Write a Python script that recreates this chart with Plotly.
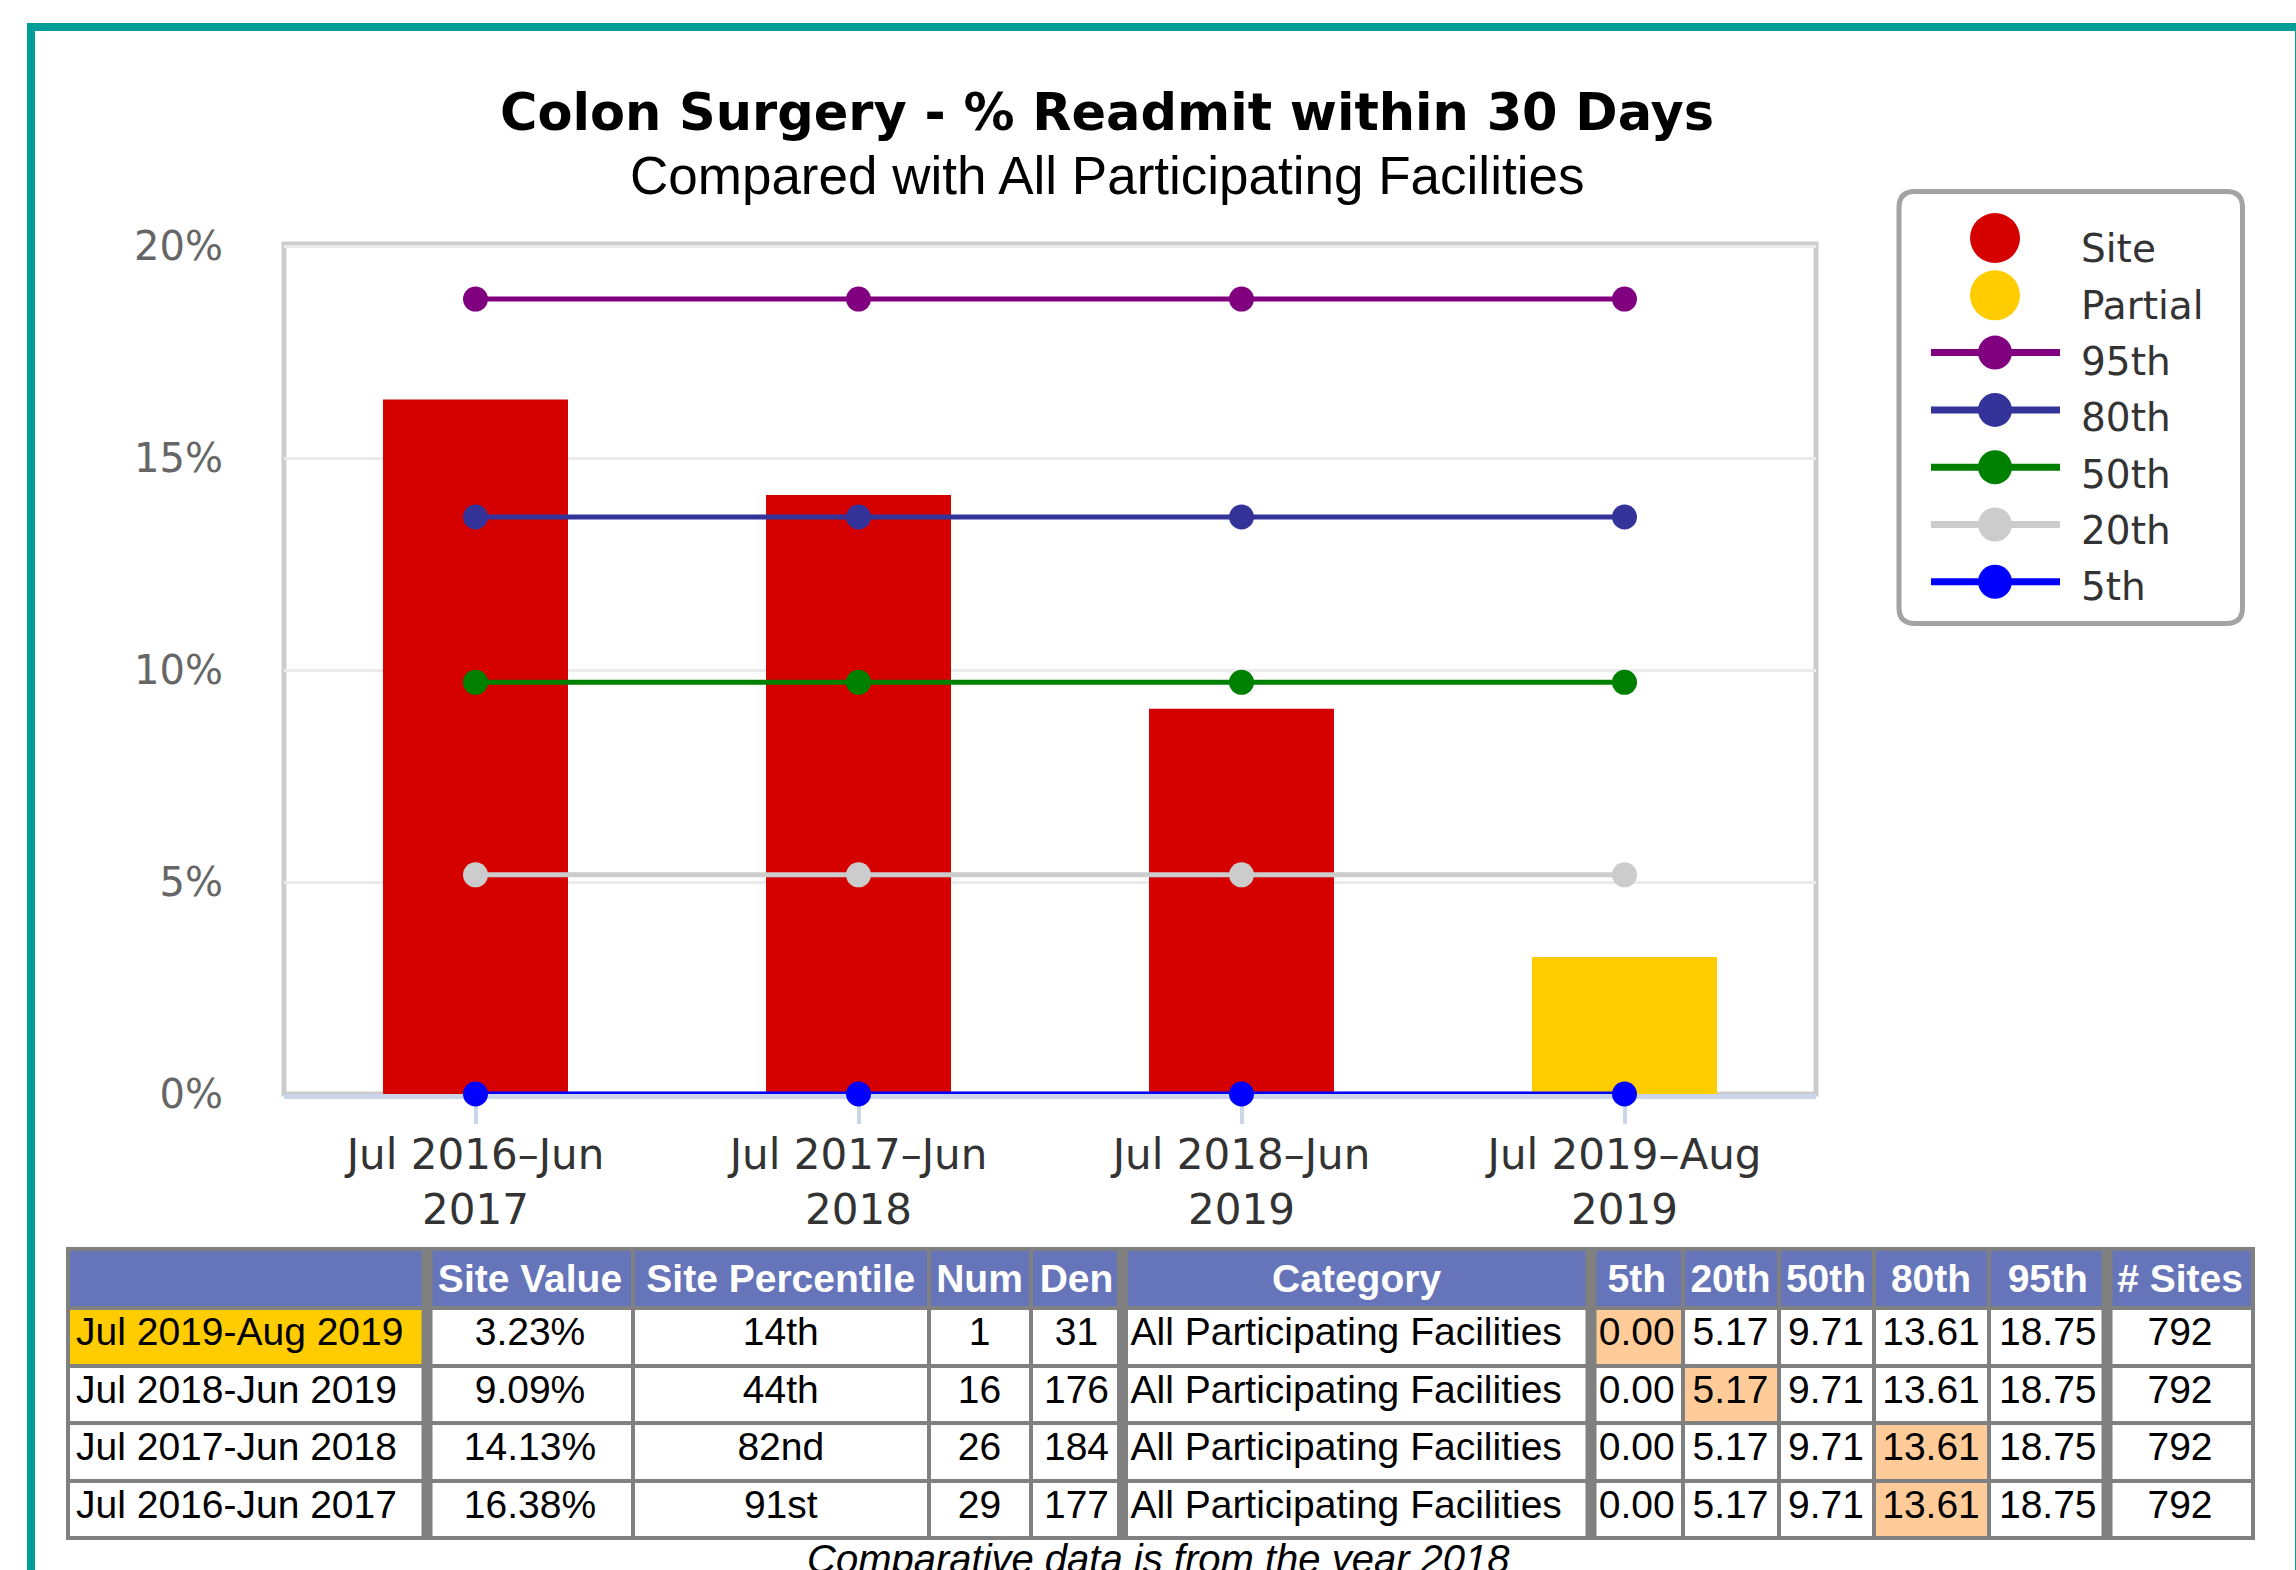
import plotly.graph_objects as go

W, H = 2296, 1570

# ---------------- data ----------------
categories = ["Jul 2016–Jun<br>2017", "Jul 2017–Jun<br>2018", "Jul 2018–Jun<br>2019", "Jul 2019–Aug<br>2019"]
site_values = [16.38, 14.13, 9.09, 3.23]
bar_status = ["Site", "Site", "Site", "Partial"]

p95 = [18.75, 18.75, 18.75, 18.75]
p80 = [13.61, 13.61, 13.61, 13.61]
p50 = [9.71, 9.71, 9.71, 9.71]
p20 = [5.17, 5.17, 5.17, 5.17]
p5 = [0.00, 0.00, 0.00, 0.00]

y_tick_vals = [0, 5, 10, 15, 20]
y_tick_text = ["0%", "5%", "10%", "15%", "20%"]

legend_names = ["Site", "Partial", "95th", "80th", "50th", "20th", "5th"]

table_header = ["", "Site Value", "Site Percentile", "Num", "Den", "Category",
                "5th", "20th", "50th", "80th", "95th", "# Sites"]
table_period = ["Jul 2019-Aug 2019", "Jul 2018-Jun 2019", "Jul 2017-Jun 2018", "Jul 2016-Jun 2017"]
table_site_value = ["3.23%", "9.09%", "14.13%", "16.38%"]
table_site_pct = ["14th", "44th", "82nd", "91st"]
table_num = [1, 16, 26, 29]
table_den = [31, 176, 184, 177]
table_category = ["All Participating Facilities"] * 4
table_5th = ["0.00", "0.00", "0.00", "0.00"]
table_20th = ["5.17", "5.17", "5.17", "5.17"]
table_50th = ["9.71", "9.71", "9.71", "9.71"]
table_80th = ["13.61", "13.61", "13.61", "13.61"]
table_95th = ["18.75", "18.75", "18.75", "18.75"]
table_sites = [792, 792, 792, 792]
table_bracket = ["5th", "20th", "80th", "80th"]
table_partial = [True, False, False, False]
footnote = "Comparative data is from the year 2018"

# ---------------- styles ----------------
status_color = {"Site": "#d50000", "Partial": "#ffcc00"}
line_color = {"95th": "#800080", "80th": "#333399", "50th": "#008000", "20th": "#cccccc", "5th": "#0000ff"}
pct_series = {"95th": p95, "80th": p80, "50th": p50, "20th": p20, "5th": p5}

NBSP = "\u00a0"


def nb(v):
    return str(v).replace(" ", NBSP)


def X(px):
    return px / W


def Y(py):
    return 1 - py / H


fig = go.Figure()

fig.add_trace(go.Bar(
    x=categories, y=site_values,
    marker=dict(color=[status_color[s] for s in bar_status], line=dict(width=0)),
    showlegend=False, hoverinfo="y",
))

for name in ["95th", "80th", "50th", "20th", "5th"]:
    fig.add_trace(go.Scatter(
        x=categories, y=pct_series[name], mode="lines+markers", name=name,
        line=dict(color=line_color[name], width=5),
        marker=dict(color=line_color[name], size=25, symbol="circle"),
        cliponaxis=False, showlegend=False,
    ))

# ---------------- table ----------------
white = "#ffffff"
peach = "#ffcc99"
cols = [table_period, table_site_value, table_site_pct, table_num, table_den, table_category,
        table_5th, table_20th, table_50th, table_80th, table_95th, table_sites]
cols = [[nb(v) for v in c] for c in cols]
fills = []
for ci, h in enumerate(table_header):
    col_fill = []
    for ri in range(len(table_period)):
        if ci == 0:
            col_fill.append("#ffcc00" if table_partial[ri] else white)
        elif h == table_bracket[ri]:
            col_fill.append(peach)
        else:
            col_fill.append(white)
    fills.append(col_fill)

fig.add_trace(go.Table(
    domain=dict(x=[X(68), X(2253)], y=[0, Y(1249)]),
    columnwidth=[359, 206, 295.5, 102, 92, 468.5, 91.5, 96, 95, 115, 118.5, 146],
    header=dict(
        values=["<b>%s</b>" % nb(h) for h in table_header],
        fill_color="#6675b9",
        line=dict(color="#808080", width=4),
        font=dict(family="Liberation Sans, Arial", size=39, color="white"),
        align="center", height=57.6,
    ),
    cells=dict(
        values=cols,
        fill_color=fills,
        line=dict(color="#808080", width=4),
        font=dict(family="Liberation Sans, Arial", size=39, color="black"),
        align=["left", "center", "center", "center", "center", "left",
               "center", "center", "center", "center", "center", "center"],
        height=57.6,
    ),
))

shapes = []
# teal frame
shapes.append(dict(type="rect", xref="paper", yref="paper",
                   x0=X(31), x1=X(2299), y0=Y(27), y1=Y(1620),
                   line=dict(color="#009e99", width=8), fillcolor="rgba(0,0,0,0)", layer="above"))
# plot area border
shapes.append(dict(type="rect", xref="x domain", yref="y domain", x0=0, x1=1, y0=0, y1=1,
                   line=dict(color="#cccccc", width=5), fillcolor="rgba(0,0,0,0)", layer="below"))
# thick table separators
for cx in [427, 1122.5, 1591, 2107]:
    shapes.append(dict(type="rect", xref="paper", yref="paper",
                       x0=X(cx - 5.5), x1=X(cx + 5.5), y0=Y(1247), y1=Y(1537),
                       line=dict(width=0), fillcolor="#808080", layer="above"))

# legend box (rounded)
lx0, lx1, ly0, ly1, r = 1899, 2242.5, 191.5, 623.5, 16
path = (f"M {X(lx0 + r)},{Y(ly0)} L {X(lx1 - r)},{Y(ly0)} Q {X(lx1)},{Y(ly0)} {X(lx1)},{Y(ly0 + r)} "
        f"L {X(lx1)},{Y(ly1 - r)} Q {X(lx1)},{Y(ly1)} {X(lx1 - r)},{Y(ly1)} "
        f"L {X(lx0 + r)},{Y(ly1)} Q {X(lx0)},{Y(ly1)} {X(lx0)},{Y(ly1 - r)} "
        f"L {X(lx0)},{Y(ly0 + r)} Q {X(lx0)},{Y(ly0)} {X(lx0 + r)},{Y(ly0)} Z")
shapes.append(dict(type="path", xref="paper", yref="paper", path=path,
                   line=dict(color="#a3a3a3", width=5), fillcolor="white", layer="above"))

annotations = []
sym_cx = 1995
for i, name in enumerate(legend_names):
    cy = 238 + i * 57.3
    if name in status_color:
        rr = 25
        shapes.append(dict(type="circle", xref="paper", yref="paper",
                           x0=X(sym_cx - rr), x1=X(sym_cx + rr), y0=Y(cy - rr), y1=Y(cy + rr),
                           line=dict(width=0), fillcolor=status_color[name], layer="above"))
    else:
        c = line_color[name]
        shapes.append(dict(type="line", xref="paper", yref="paper",
                           x0=X(1931), x1=X(2060), y0=Y(cy), y1=Y(cy),
                           line=dict(color=c, width=7), layer="above"))
        rr = 17
        shapes.append(dict(type="circle", xref="paper", yref="paper",
                           x0=X(sym_cx - rr), x1=X(sym_cx + rr), y0=Y(cy - rr), y1=Y(cy + rr),
                           line=dict(width=0), fillcolor=c, layer="above"))
    ty = 249 + i * 56.3
    annotations.append(dict(text=name, xref="paper", yref="paper", x=X(2079), y=Y(ty),
                            xanchor="left", yanchor="middle", showarrow=False,
                            font=dict(family="DejaVu Sans", size=39, color="#333333")))

# titles
annotations.append(dict(text="<b>Colon Surgery - % Readmit within 30 Days</b>", xref="paper", yref="paper",
                        x=X(1107), y=Y(113), xanchor="center", yanchor="middle", showarrow=False,
                        font=dict(family="DejaVu Sans", size=51, color="black")))
annotations.append(dict(text="Compared with All Participating Facilities", xref="paper", yref="paper",
                        x=X(1107), y=Y(176), xanchor="center", yanchor="middle", showarrow=False,
                        font=dict(family="Liberation Sans, Arial", size=53, color="black")))
annotations.append(dict(text="<i>" + footnote + "</i>", xref="paper", yref="paper",
                        x=X(1158), y=Y(1559), xanchor="center", yanchor="middle", showarrow=False,
                        font=dict(family="Liberation Sans, Arial", size=40, color="black")))

fig.update_layout(
    width=W, height=H, autosize=False,
    margin=dict(l=0, r=0, t=0, b=0, pad=0),
    paper_bgcolor="white", plot_bgcolor="white",
    showlegend=False,
    bargap=0.517,
    xaxis=dict(domain=[X(284), X(1816)], type="category",
               showline=True, linecolor="#ccd6eb", linewidth=5,
               ticks="outside", ticklen=25, tickwidth=4, tickcolor="#ccd6eb",
               ticklabelstandoff=-5,
               tickfont=dict(family="DejaVu Sans", size=42, color="#333333"),
               showgrid=False, layer="below traces", automargin=False, fixedrange=True),
    yaxis=dict(domain=[Y(1094), Y(244)], range=[0, 20.05],
               tickvals=y_tick_vals, ticktext=y_tick_text,
               tickfont=dict(family="DejaVu Sans", size=40, color="#666666"),
               showgrid=True, gridcolor="#ebebeb", gridwidth=3,
               zeroline=False, showline=False, ticks="", ticklabelstandoff=60,
               layer="below traces", automargin=False, fixedrange=True),
    shapes=shapes,
    annotations=annotations,
)

fig.write_html("out.html", config={"displayModeBar": False},
               post_script="document.body.style.margin='0px';document.body.style.overflow='hidden';")
